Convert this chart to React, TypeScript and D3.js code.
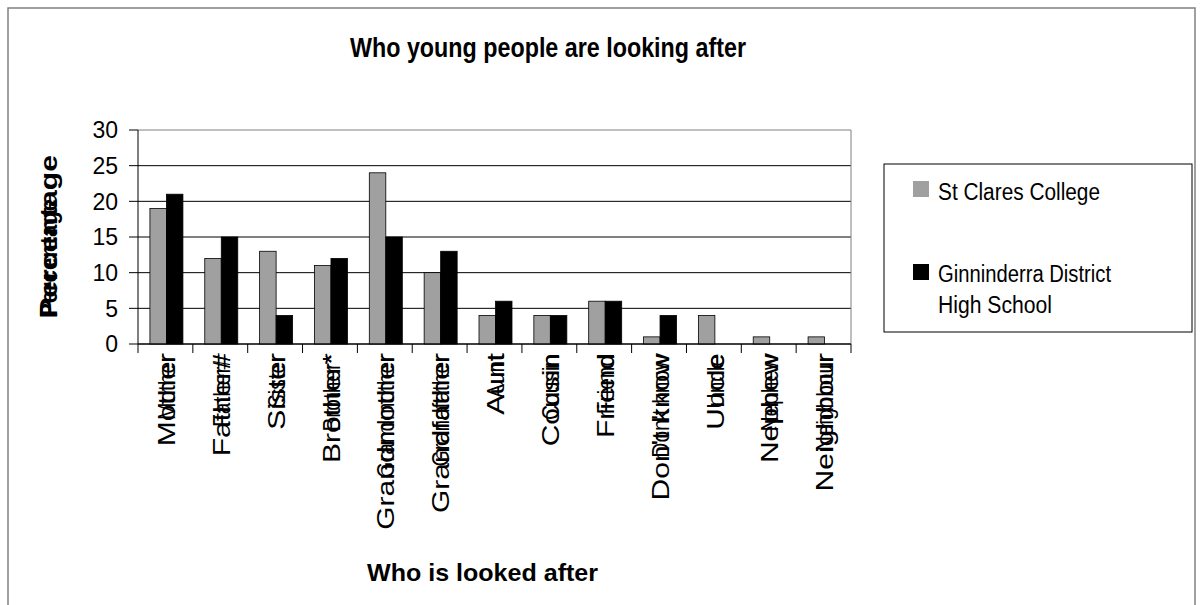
import React from "react";
import * as d3 from "d3";

const categories = ["Mother", "Father#", "Sister", "Brother*", "Grandmother", "Grandfather", "Aunt", "Cousin", "Friend", "Don't know", "Uncle", "Nephew", "Neighbour"];
const stClares = [19, 12, 13, 11, 24, 10, 4, 4, 6, 1, 4, 1, 1];
const ginninderra = [21, 15, 4, 12, 15, 13, 6, 4, 6, 4, 0, 0, 0];
const seriesNames = ["St Clares College", "Ginninderra District High School"];
const yTicks = [0, 5, 10, 15, 20, 25, 30];

const FONT = "'Liberation Sans', Arial, sans-serif";

let ctx: CanvasRenderingContext2D | null = null;
function measure(text: string, size: number, bold = false): number {
  if (!ctx) ctx = document.createElement("canvas").getContext("2d");
  if (!ctx) return text.length * size * 0.55;
  ctx.font = `${bold ? "bold " : ""}${size}px 'Liberation Sans', Arial, sans-serif`;
  return ctx.measureText(text).width;
}

export default function App() {
  const left = 138, right = 851, top = 130, bottom = 344;
  const x = d3.scaleBand<string>().domain(categories).range([left, right]).paddingInner(0).paddingOuter(0);
  const y = d3.scaleLinear().domain([0, 30]).range([bottom, top]);
  const bw = 16.5;
  const series = [
    { name: seriesNames[0], values: stClares, color: "#a0a0a0" },
    { name: seriesNames[1], values: ginninderra, color: "#000000" },
  ];
  const LS = 24;

  return (
    <svg width={1203} height={605} style={{ position: "absolute", left: 0, top: 0, background: "#fff" }}>
      <rect x={8} y={8} width={1187} height={620} fill="#fff" stroke="#808080" strokeWidth={1.5} />
      <text x={350} y={57} fontFamily={FONT} fontWeight="bold" fontSize={27} textLength={396} lengthAdjust="spacingAndGlyphs">
        Who young people are looking after
      </text>

      {/* gridlines */}
      {yTicks.map((t) => (
        <line key={"g" + t} x1={left} x2={right} y1={y(t)} y2={y(t)} stroke={t === 30 ? "#808080" : "#000"} strokeWidth={1} />
      ))}
      <line x1={right} x2={right} y1={top} y2={bottom} stroke="#808080" strokeWidth={1} />
      <line x1={left} x2={left} y1={top} y2={bottom} stroke="#000" strokeWidth={1} />
      {yTicks.map((t) => (
        <g key={"t" + t}>
          <line x1={left - 9} x2={left} y1={y(t)} y2={y(t)} stroke="#000" />
          <text x={118} y={y(t)} dy="0.36em" textAnchor="end" fontFamily={FONT} fontSize={23}>{t}</text>
        </g>
      ))}

      {/* bars */}
      {series.map((s, si) =>
        categories.map((c, i) => {
          const v = s.values[i];
          if (v <= 0) return null;
          const bx = (x(c) as number) + x.bandwidth() / 2 - bw + si * bw + 1;
          return (
            <rect key={s.name + c} x={bx} y={y(v)} width={bw} height={y(0) - y(v)} fill={s.color} stroke="#000" strokeWidth={0.8} />
          );
        })
      )}

      {/* category ticks */}
      {categories.concat(["end"]).map((c, i) => {
        const xx = left + i * x.bandwidth();
        return <line key={"ct" + i} x1={xx} x2={xx} y1={bottom} y2={bottom + 9} stroke="#000" />;
      })}
      <line x1={left} x2={right} y1={bottom} y2={bottom} stroke="#000" />

      {/* category labels (doubled rendering) */}
      {categories.map((c) => {
        const cx = (x(c) as number) + x.bandwidth() / 2 + 1;
        const w = measure(c, LS);
        return (
          <g key={"l" + c} transform={`translate(${cx},${bottom + 9}) rotate(-90)`} fontFamily={FONT} fontSize={LS}>
            <text x={-w * 1.25} y={0} dy="0.36em" textLength={w * 1.25} lengthAdjust="spacingAndGlyphs">{c}</text>
            <text x={-w * 0.87 - 2} y={0} dy="0.36em" textLength={w * 0.87} lengthAdjust="spacingAndGlyphs">{c}</text>
          </g>
        );
      })}

      {/* y axis title */}
      {(() => {
        const w = measure("Percentage", 24, true);
        return (
          <g transform={`translate(57,318) rotate(-90)`} fontFamily={FONT} fontSize={24} fontWeight="bold">
            <text x={0} y={0} textLength={163} lengthAdjust="spacingAndGlyphs">Percentage</text>
            <text x={0} y={0} textLength={w * 0.92} lengthAdjust="spacingAndGlyphs">Percentage</text>
          </g>
        );
      })()}

      {/* x axis title */}
      <text x={367} y={581} fontFamily={FONT} fontWeight="bold" fontSize={24} textLength={231} lengthAdjust="spacingAndGlyphs">Who is looked after</text>

      {/* legend */}
      <rect x={884} y={164} width={308} height={168} fill="#fff" stroke="#000" strokeWidth={1} />
      <rect x={913} y={181} width={16} height={16} fill={series[0].color} />
      <text x={938} y={200} fontFamily={FONT} fontSize={23} textLength={162} lengthAdjust="spacingAndGlyphs">St Clares College</text>
      <rect x={913} y={264} width={16} height={16} fill={series[1].color} />
      <text x={938} y={282} fontFamily={FONT} fontSize={23} textLength={173} lengthAdjust="spacingAndGlyphs">Ginninderra District</text>
      <text x={938} y={313} fontFamily={FONT} fontSize={23} textLength={114} lengthAdjust="spacingAndGlyphs">High School</text>
    </svg>
  );
}
